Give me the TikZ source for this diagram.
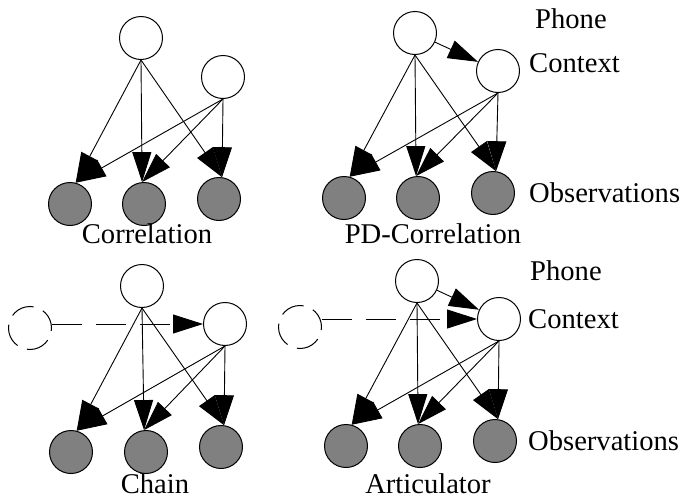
\documentclass[tikz,border=0pt]{standalone}
\usepackage{fontspec}
\setmainfont{Liberation Serif}
\usetikzlibrary{arrows.meta}
\definecolor{obsgray}{RGB}{128,128,128}
\begin{document}
\begin{tikzpicture}[x=1pt,y=-1pt,
  hid/.style={circle,draw,line width=1pt,minimum size=43pt,inner sep=0pt},
  obsnode/.style={hid,fill=obsgray},
  prevnode/.style={hid,dash pattern=on 24pt off 10pt,dash phase=4pt},
  arr/.style={line width=0.9pt,-{Triangle[length=30pt,width=19pt]}},
  darr/.style={arr,dash pattern=on 30pt off 14pt},
  lbl/.style={font=\fontsize{28.6}{32}\selectfont,inner sep=0pt}]
\useasboundingbox (0,0) rectangle (681,501);
% ---------- Panel 1: Correlation
\node[hid] (p1) at (141,38) {};
\node[hid] (c1) at (223,77) {};
\node[obsnode] (a1) at (70,204) {};
\node[obsnode] (b1) at (144,204) {};
\node[obsnode] (e1) at (219,199) {};
\node[lbl,anchor=base] (t1) at (147,243) {Correlation};
\foreach \o/\ang in {a1/75,b1/95,e1/82}{
  \draw[arr] (p1.south) -- (\o.\ang);
  \draw[arr] (c1.south) -- (\o.\ang);}
% ---------- Panel 2: PD-Correlation
\node[hid] (p2) at (415,33) {};
\node[hid] (c2) at (498,71) {};
\node[obsnode] (a2) at (344,198) {};
\node[obsnode] (b2) at (418,198) {};
\node[obsnode] (e2) at (493,193) {};
\node[lbl,anchor=base] (t2) at (433,243) {PD-Correlation};
\node[lbl,anchor=base west] (ph2) at (535,28) {Phone};
\node[lbl,anchor=base west] (cx2) at (529,72) {Context};
\node[lbl,anchor=base west] (ob2) at (529,202) {Observations};
\draw[arr] (p2) -- (c2);
\foreach \o/\ang in {a2/75,b2/95,e2/82}{
  \draw[arr] (p2.south) -- (\o.\ang);
  \draw[arr] (c2.south) -- (\o.\ang);}
% ---------- Panel 3: Chain
\node[hid] (p3) at (142,286) {};
\node[hid] (c3) at (225,324) {};
\node[prevnode] (d3) at (30,328) {};
\node[obsnode] (a3) at (71,452) {};
\node[obsnode] (b3) at (146,452) {};
\node[obsnode] (e3) at (221,447) {};
\node[lbl,anchor=base] (t3) at (155,493) {Chain};
\draw[darr] (c3.west -| d3.east) -- (c3.west);
\foreach \o/\ang in {a3/75,b3/95,e3/82}{
  \draw[arr] (p3.south) -- (\o.\ang);
  \draw[arr] (c3.south) -- (\o.\ang);}
% ---------- Panel 4: Articulator
\node[hid] (p4) at (417,281) {};
\node[hid] (c4) at (499,319) {};
\node[prevnode] (d4) at (300,327) {};
\node[obsnode] (a4) at (346,446) {};
\node[obsnode] (b4) at (420,446) {};
\node[obsnode] (e4) at (495,441) {};
\node[lbl,anchor=base] (t4) at (428,493) {Articulator};
\node[lbl,anchor=base west] (ph4) at (530,280) {Phone};
\node[lbl,anchor=base west] (cx4) at (528,328) {Context};
\node[lbl,anchor=base west] (ob4) at (528,450) {Observations};
\draw[arr] (p4) -- (c4);
\draw[darr] (c4.west -| d4.east) -- (c4.west);
\foreach \o/\ang in {a4/75,b4/95,e4/82}{
  \draw[arr] (p4.south) -- (\o.\ang);
  \draw[arr] (c4.south) -- (\o.\ang);}
\end{tikzpicture}
\end{document}
